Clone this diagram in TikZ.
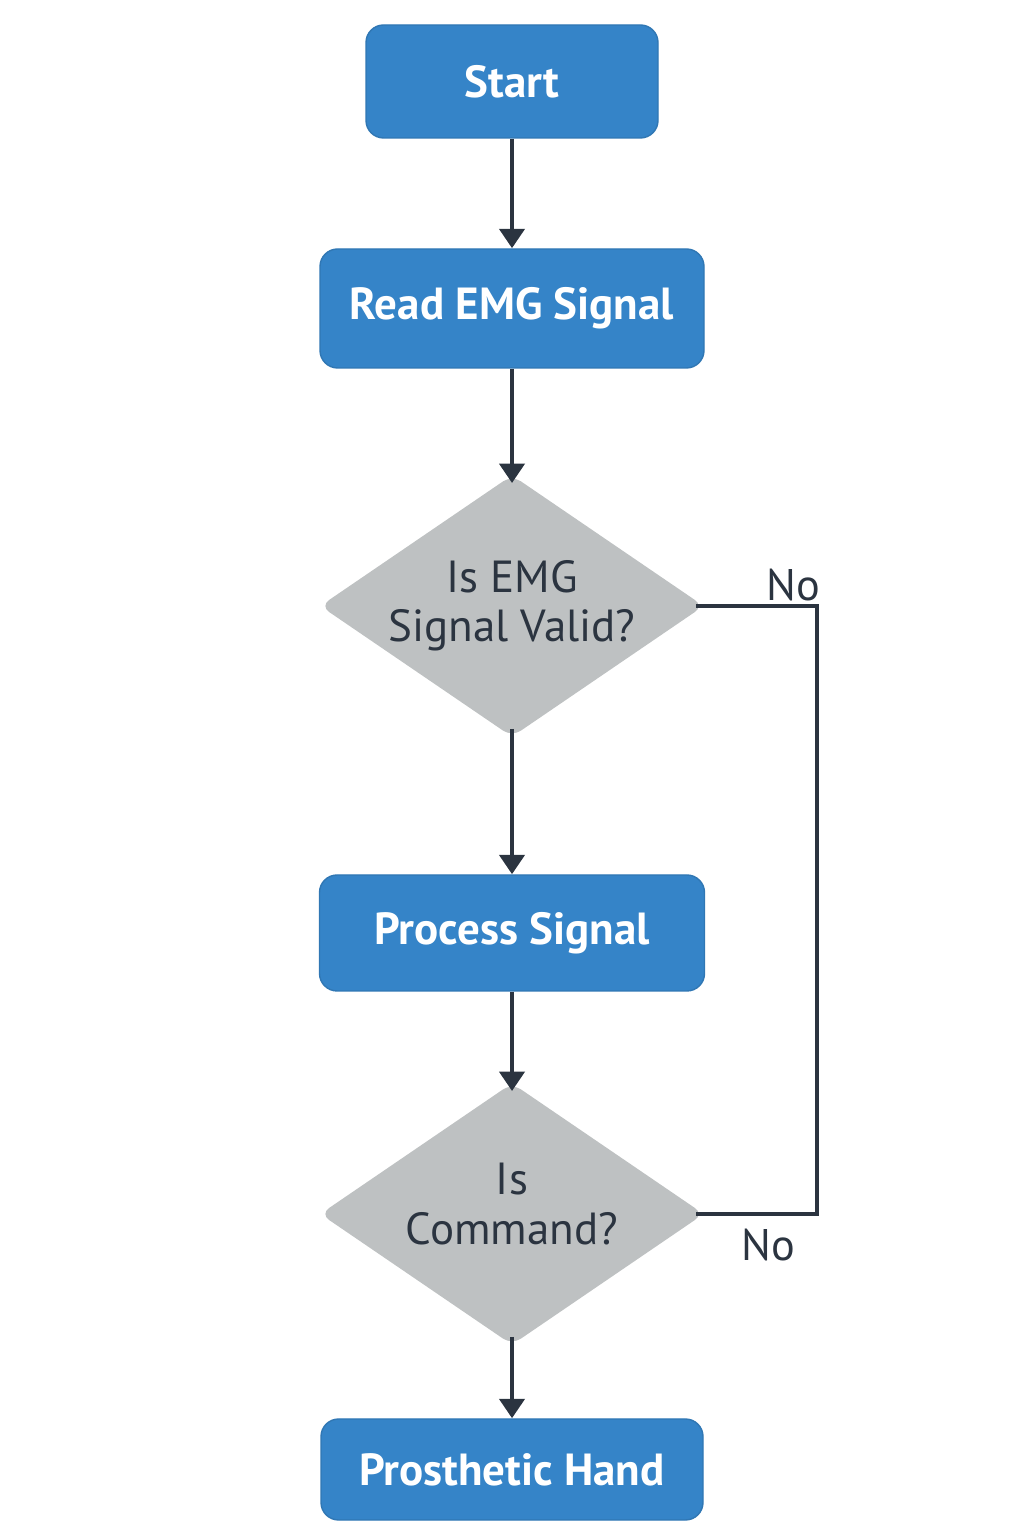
\documentclass[tikz,border=0pt]{standalone}
\usepackage{fontspec}
\setmainfont{PT Sans}
\usepackage{tikz}
\usetikzlibrary{shapes.geometric,arrows.meta}
\definecolor{boxblue}{HTML}{3584C8}
\definecolor{decgray}{HTML}{BEC1C2}
\definecolor{inkdark}{HTML}{2B3440}
\tikzset{
  procbox/.style={rectangle,rounded corners=5pt,fill=boxblue,draw=boxblue!90!black,line width=0.4pt,
    text=white,font=\fontsize{12.8}{15}\selectfont\bfseries,inner sep=0pt},
  decision/.style={diamond,fill=decgray,rounded corners=3pt,inner sep=0pt,
    minimum width=3.84cm,minimum height=2.62cm},
  dectext/.style={text=inkdark,align=center,font=\fontsize{12.8}{14}\selectfont},
  flow/.style={draw=inkdark,line width=1.4pt,-{Triangle[width=7pt,length=5.5pt]}},
  loopline/.style={draw=inkdark,line width=1.4pt},
  nolabel/.style={text=inkdark,font=\fontsize{12.6}{15}\selectfont}
}
\begin{document}
\begin{tikzpicture}
\useasboundingbox (0,0) rectangle (10.24,15.36);
\node[procbox,minimum width=2.92cm,minimum height=1.13cm] (start) at (5.12,14.545) {Start};
\node[procbox,minimum width=3.84cm,minimum height=1.19cm] (read) at (5.12,12.275) {Read EMG Signal};
\node[decision,label={[dectext]center:{Is EMG\\Signal Valid?}}] (valid) at (5.12,9.30) {};
\node[procbox,minimum width=3.85cm,minimum height=1.16cm] (process) at (5.12,6.03) {Process Signal};
\node[decision,label={[dectext,yshift=1mm]center:{Is\\Command?}}] (cmd) at (5.12,3.22) {};
\node[procbox,minimum width=3.82cm,minimum height=1.01cm] (hand) at (5.12,0.665) {Prosthetic Hand};
\draw[flow] (start) -- (read);
\draw[flow,shorten >=-2.5pt] (read) -- (valid);
\draw[flow,shorten <=-2.5pt] (valid) -- (process);
\draw[flow,shorten >=-2.5pt] (process) -- (cmd);
\draw[flow,shorten <=-2.5pt] (cmd) -- (hand);
% no branch
\coordinate (bend) at (8.17,9.30);
\draw[loopline] ([xshift=-2.5pt]valid.east) -- (bend) |- ([xshift=-2.5pt]cmd.east);
\node[nolabel] (no1) at (7.93,9.51) {No};
\node[nolabel] (no2) at (7.68,2.91) {No};
\end{tikzpicture}
\end{document}
